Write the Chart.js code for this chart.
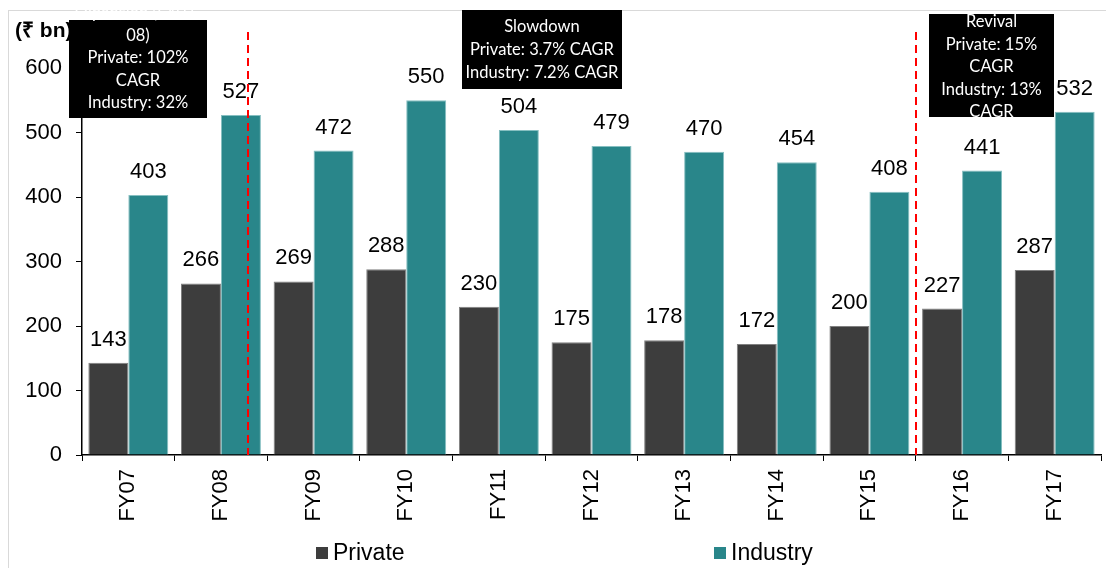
<!DOCTYPE html>
<html>
<head>
<meta charset="utf-8">
<script src="https://cdn.jsdelivr.net/npm/chart.js@4"></script>
<style>
  html, body { margin: 0; padding: 0; background: #fff; }
  #wrap { width: 1106px; height: 568px; }
</style>
</head>
<body>
<div id="wrap"><canvas id="myChart" width="1106" height="568"></canvas></div>
<script>
// chart data
const categories = ['FY07', 'FY08', 'FY09', 'FY10', 'FY11', 'FY12', 'FY13', 'FY14', 'FY15', 'FY16', 'FY17'];
const privateValues = [143, 266, 269, 288, 230, 175, 178, 172, 200, 227, 287];
const industryValues = [403, 527, 472, 550, 504, 479, 470, 454, 408, 441, 532];
const yTicks = [0, 100, 200, 300, 400, 500, 600];
// phase dividers, in category units
const dividerPositions = [1.29, 8.5];
const phaseNotes = [
  { lines: ['Expansion (FY07-', '08)', 'Private: 102%', 'CAGR', 'Industry: 32%'], box: [69, 20, 138, 98], firstY: 13, step: 22.5, clip: false },
  { lines: ['Slowdown', 'Private: 3.7% CAGR', 'Industry: 7.2% CAGR'], box: [462, 10, 160, 79], firstY: 27, step: 23, clip: true },
  { lines: ['Revival', 'Private: 15%', 'CAGR', 'Industry: 13%', 'CAGR'], box: [929, 14, 125, 103], firstY: 22, step: 22.4, clip: true }
];

const FONT = 'Arial, "Liberation Sans", sans-serif';
const NOTE_FONT = 'Lato, "Open Sans", sans-serif';

const extras = {
  id: 'extras',
  beforeDraw(chart) {
    const ctx = chart.ctx;
    ctx.save();
    ctx.fillStyle = '#fff';
    ctx.fillRect(0, 0, chart.width, chart.height);
    ctx.strokeStyle = '#d9d9d9';
    ctx.lineWidth = 1;
    ctx.strokeRect(8.5, 10.5, chart.width, chart.height);
    // axis title
    ctx.fillStyle = '#000';
    ctx.font = 'bold 21px ' + FONT;
    ctx.textBaseline = 'middle';
    ctx.textAlign = 'left';
    ctx.fillText('(₹ bn)', 15, 31);
    ctx.restore();
  },
  afterDatasetsDraw(chart) {
    const ctx = chart.ctx;
    const x = chart.scales.x;
    ctx.save();
    // value labels
    ctx.fillStyle = '#000';
    ctx.font = '22px ' + FONT;
    ctx.textAlign = 'center';
    ctx.textBaseline = 'alphabetic';
    chart.data.datasets.forEach((ds, i) => {
      chart.getDatasetMeta(i).data.forEach((bar, j) => {
        ctx.fillText(String(ds.data[j]), bar.x, bar.y - 17);
      });
    });
    // dividers
    const cw = x.getPixelForValue(1) - x.getPixelForValue(0);
    ctx.strokeStyle = '#ff0000';
    ctx.lineWidth = 2;
    ctx.setLineDash([8, 5]);
    dividerPositions.forEach(p => {
      const i = Math.floor(p);
      const px = Math.round(x.getPixelForValue(i) + (p - i) * cw);
      ctx.beginPath();
      ctx.moveTo(px, 32);
      ctx.lineTo(px, chart.chartArea.bottom);
      ctx.stroke();
    });
    ctx.setLineDash([]);
    // phase notes
    phaseNotes.forEach(n => {
      const [bx, by, bw, bh] = n.box;
      ctx.fillStyle = '#000';
      ctx.fillRect(bx, by, bw, bh);
      ctx.save();
      if (n.clip) {
        ctx.beginPath();
        ctx.rect(bx, by, bw, bh);
        ctx.clip();
      }
      ctx.fillStyle = '#fff';
      ctx.font = '16.5px ' + NOTE_FONT;
      ctx.textAlign = 'center';
      ctx.textBaseline = 'middle';
      n.lines.forEach((t, k) => ctx.fillText(t, bx + bw / 2, n.firstY + k * n.step));
      ctx.restore();
    });
    // legend
    const legendX = [316, 714];
    ctx.font = '23px ' + FONT;
    ctx.textAlign = 'left';
    ctx.textBaseline = 'middle';
    chart.data.datasets.forEach((ds, i) => {
      ctx.fillStyle = ds.backgroundColor;
      ctx.fillRect(legendX[i], 547, 12, 12);
      ctx.fillStyle = '#000';
      ctx.fillText(ds.label, legendX[i] + 17, 554);
    });
    ctx.restore();
  }
};

new Chart(document.getElementById('myChart'), {
  type: 'bar',
  data: {
    labels: categories,
    datasets: [
      {
        label: 'Private',
        data: privateValues,
        backgroundColor: '#3d3d3d',
        borderColor: '#808080',
        borderWidth: 1,
        categoryPercentage: 0.863,
        barPercentage: 1
      },
      {
        label: 'Industry',
        data: industryValues,
        backgroundColor: '#29868a',
        borderColor: '#86bfc1',
        borderWidth: 1,
        categoryPercentage: 0.863,
        barPercentage: 1
      }
    ]
  },
  options: {
    responsive: false,
    animation: false,
    devicePixelRatio: 1,
    layout: { padding: { top: 68, right: 5, left: 0, bottom: 0 } },
    plugins: {
      legend: { display: false },
      tooltip: { enabled: false }
    },
    scales: {
      x: {
        grid: { offset: true, drawOnChartArea: false, tickLength: 6, color: '#000', tickColor: '#000' },
        border: { color: '#000', width: 1.5 },
        ticks: {
          color: '#000',
          font: { family: FONT, size: 22 },
          minRotation: 90,
          maxRotation: 90,
          padding: 8
        },
        afterFit(s) { s.height = 113; }
      },
      y: {
        min: 0,
        max: 600,
        afterBuildTicks(s) { s.ticks = yTicks.map(v => ({ value: v })); },
        grid: { drawOnChartArea: false, tickLength: 6, color: '#000', tickColor: '#000' },
        border: { color: '#000', width: 1.5 },
        ticks: {
          color: '#000',
          font: { family: FONT, size: 22 },
          padding: 14
        },
        afterFit(s) { s.width = 82; }
      }
    }
  },
  plugins: [extras]
});
</script>
</body>
</html>
